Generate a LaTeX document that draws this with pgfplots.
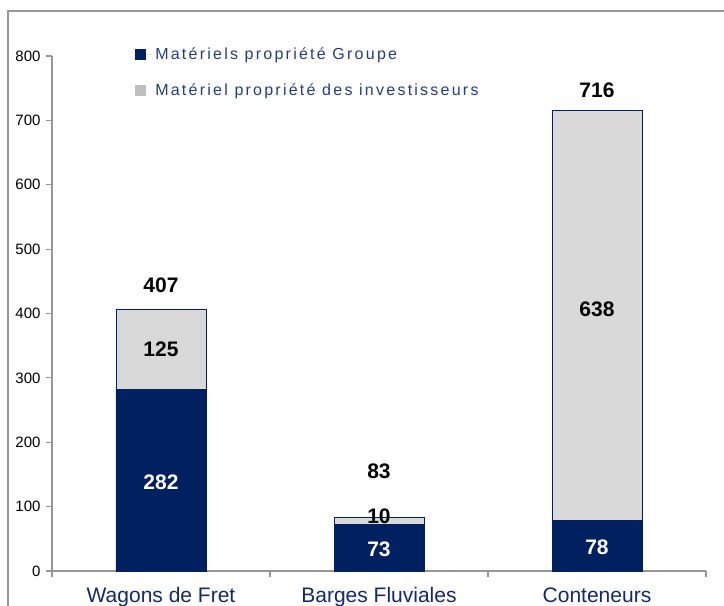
\documentclass[border=0pt]{standalone}
\usepackage{pgfplots}
\pgfplotsset{compat=1.18}
\usepackage{fontspec}
\setmainfont{Liberation Sans}
\definecolor{navy}{RGB}{0,32,96}
\definecolor{lgray}{RGB}{217,217,217}
\definecolor{leggray}{RGB}{191,191,191}
\definecolor{axgray}{RGB}{150,150,150}
\definecolor{legblue}{RGB}{35,60,130}
\definecolor{catblue}{RGB}{20,40,110}
\begin{document}
\begin{tikzpicture}[x=1pt,y=1pt]
\path[use as bounding box] (0,0) rectangle (724,606);
\clip (0,0) rectangle (724,606);
\draw[axgray, line width=1.5pt] (8,-5) -- (8,595) -- (730,595);
\begin{axis}[
  at={(52pt,35pt)}, anchor=south west,
  scale only axis, width=654pt, height=515pt,
  ybar stacked, bar width=90pt,
  xmin=-0.5, xmax=2.5, ymin=0, ymax=800,
  axis x line=bottom, axis y line=left,
  axis line style={axgray, line width=1.2pt, -},
  ytick={0,100,200,300,400,500,600,700,800},
  yticklabels={0,100,200,300,400,500,600,700,800},
  xtick={-0.5,0.5,1.5,2.5}, xticklabels={},
  tick label style={font=\fontsize{15}{18}\selectfont},
  every y tick label/.append style={font=\fontsize{15}{18}\selectfont, xshift=-2.5pt},
  extra x ticks={0,1,2},
  extra x tick labels={Wagons de Fret, Barges Fluviales, Conteneurs},
  extra x tick style={major tick length=0pt, tick style={draw=none},
    xticklabel style={font=\fontsize{21}{24}\selectfont, text=catblue, yshift=-13pt}},
  major tick length=5.5pt,
  tick align=outside,
  tick style={axgray, line width=1.2pt},
  legend style={at={(0.127,1.02)}, anchor=north west, draw=none, fill=none,
    font=\fontsize{16}{19}\selectfont\addfontfeature{LetterSpace=14},
    text=legblue, row sep=19pt, inner sep=0pt},
  legend cell align=left,
  legend image code/.code={\fill[#1,draw=none] (0pt,-5.5pt) rectangle (11pt,5.5pt); \path[draw=none] (0pt,0pt) -- (18pt,0pt);},
]
\addplot[fill=navy, draw=navy, line width=0.8pt] coordinates {(0,282) (1,73) (2,78)};
\addlegendentry{Matériels propriété Groupe}
\addplot[fill=lgray, draw=navy, line width=0.8pt, forget plot] coordinates {(0,125) (1,10) (2,638)};
\addlegendimage{legend image code/.code={\fill[leggray,draw=none] (0pt,-5.5pt) rectangle (11pt,5.5pt); \path[draw=none] (0pt,0pt) -- (18pt,0pt);}}
\addlegendentry{Matériel propriété des investisseurs}
\coordinate (t0) at (axis cs:0,444);
\coordinate (m0) at (axis cs:0,344);
\coordinate (b0) at (axis cs:0,138);
\coordinate (t1) at (axis cs:1,155);
\coordinate (m1) at (axis cs:1,85);
\coordinate (b1) at (axis cs:1,34);
\coordinate (t2) at (axis cs:2,747);
\coordinate (m2) at (axis cs:2,407);
\coordinate (b2) at (axis cs:2,37);
\end{axis}
\tikzset{lbl/.style={font=\bfseries\fontsize{21}{24}\selectfont}}
\node[lbl] at (t0) {407};
\node[lbl] at (m0) {125};
\node[lbl, text=white] at (b0) {282};
\node[lbl] at (t1) {83};
\node[lbl] at (m1) {10};
\node[lbl, text=white] at (b1) {73};
\node[lbl] at (t2) {716};
\node[lbl] at (m2) {638};
\node[lbl, text=white] at (b2) {78};
\end{tikzpicture}
\end{document}
